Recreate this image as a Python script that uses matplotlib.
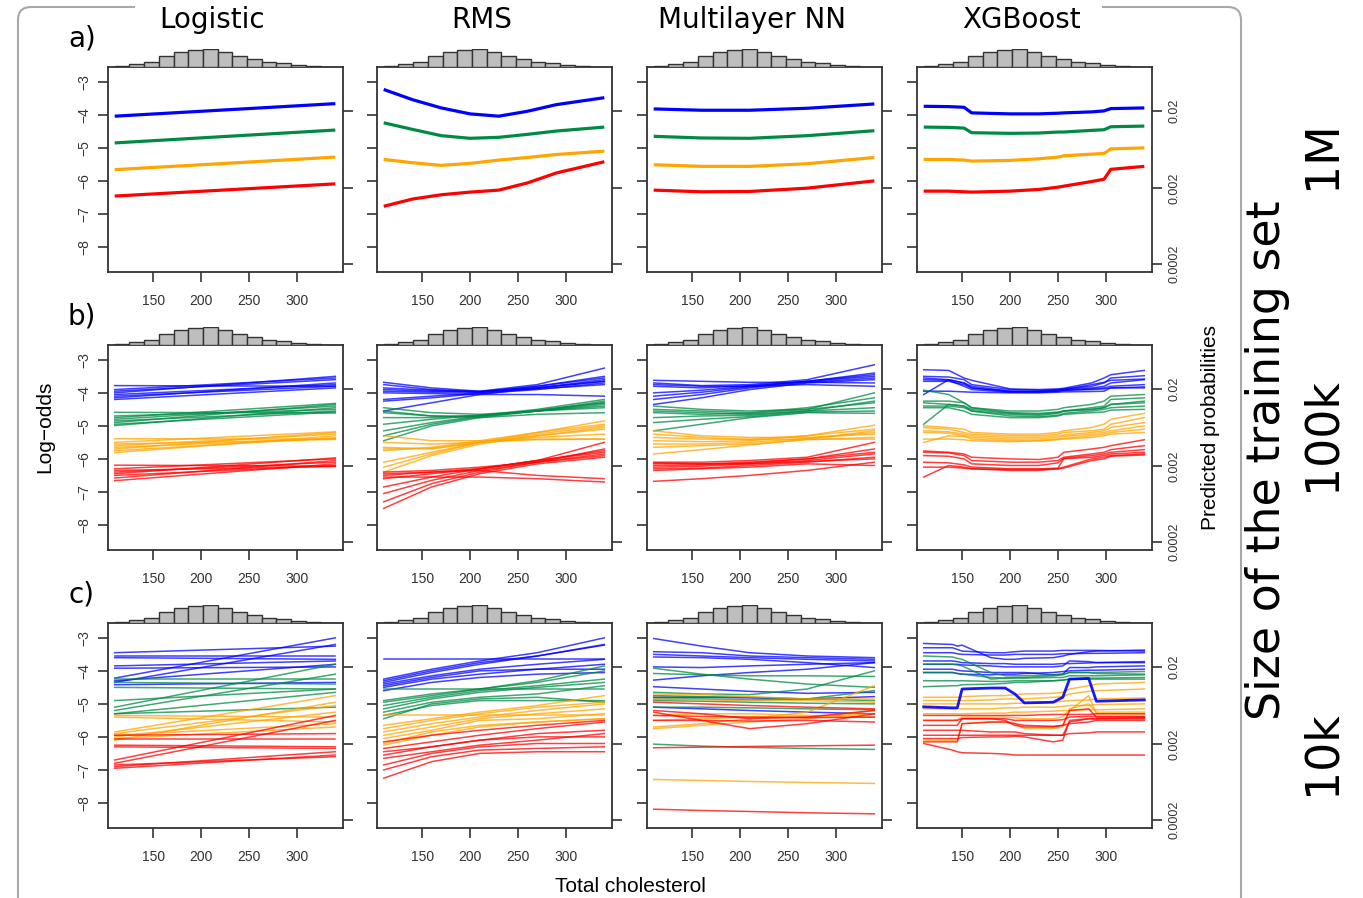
import numpy as np
import matplotlib
matplotlib.use("Agg")
import matplotlib.pyplot as plt
from matplotlib.path import Path
from matplotlib.patches import PathPatch

# ---- data (log-odds) ----
titles = ["Logistic", "RMS", "Multilayer NN", "XGBoost"]
row_tags = ["a)", "b)", "c)"]
size_tags = ["1M", "100k", "10k"]
colors = ["#0000FF", "#008B45", "#FFA500", "#FF0000"]  # blue, green, orange, red

x_ticks = [150, 200, 250, 300]
y_ticks = [-3, -4, -5, -6, -7, -8]
prob_ticks = [0.02, 0.002, 0.0002]
prob_labels = ["0.02", "0.002", "0.0002"]

# cholesterol histogram shown above each panel
hist_counts = [2, 8, 16, 31, 43, 50, 52, 45, 32, 23, 16, 11, 6, 2, 1]

X_LIN = [110, 340]
X_RMS_A = [110, 140, 170, 200, 230, 260, 290, 340]
X_SM = [110, 160, 210, 270, 340]
X_XGB = [110, 136, 152, 160, 200, 230, 250, 256, 285, 298, 305, 340]
X_XGB_C = [110, 140, 145, 150, 180, 195, 205, 215, 245, 255, 262, 282, 290, 340]

# row a) 1M
log_a_blue = [[-4.04, -3.66]]
log_a_green = [[-4.85, -4.46]]
log_a_orange = [[-5.66, -5.28]]
log_a_red = [[-6.46, -6.09]]

rms_a_blue = [[-3.23, -3.54, -3.79, -3.97, -4.04, -3.89, -3.69, -3.48]]
rms_a_green = [[-4.24, -4.44, -4.63, -4.71, -4.68, -4.59, -4.49, -4.37]]
rms_a_orange = [[-5.35, -5.45, -5.53, -5.47, -5.37, -5.29, -5.20, -5.10]]
rms_a_red = [[-6.77, -6.55, -6.42, -6.34, -6.28, -6.06, -5.76, -5.42]]

nn_a_blue = [[-3.82, -3.86, -3.86, -3.80, -3.67]]
nn_a_green = [[-4.65, -4.70, -4.71, -4.63, -4.48]]
nn_a_orange = [[-5.51, -5.56, -5.56, -5.48, -5.29]]
nn_a_red = [[-6.28, -6.33, -6.32, -6.22, -6.00]]

xgb_a_blue = [[-3.74, -3.75, -3.77, -3.94, -3.97, -3.97, -3.95, -3.94, -3.91, -3.88, -3.81, -3.79]]
xgb_a_green = [[-4.37, -4.38, -4.40, -4.54, -4.56, -4.55, -4.52, -4.52, -4.47, -4.45, -4.36, -4.34]]
xgb_a_orange = [[-5.35, -5.35, -5.37, -5.40, -5.38, -5.33, -5.28, -5.24, -5.19, -5.17, -5.03, -5.00]]
xgb_a_red = [[-6.31, -6.31, -6.33, -6.34, -6.31, -6.26, -6.19, -6.16, -6.02, -5.95, -5.65, -5.56]]

# row b) 100k
log_b_blue = [[-3.78, -3.80], [-3.90, -3.55], [-3.95, -3.60], [-4.00, -3.50],
              [-4.05, -3.75], [-4.10, -3.80], [-4.15, -3.70], [-4.20, -3.85]]
log_b_green = [[-4.59, -4.61], [-4.75, -4.32], [-4.80, -4.40], [-4.85, -4.55],
               [-4.90, -4.35], [-4.95, -4.58], [-4.99, -4.45], [-4.70, -4.50]]
log_b_orange = [[-5.39, -5.40], [-5.50, -5.18], [-5.60, -5.25], [-5.65, -5.38],
                [-5.70, -5.20], [-5.75, -5.36], [-5.81, -5.30], [-5.55, -5.41]]
log_b_red = [[-6.19, -6.22], [-6.30, -6.00], [-6.40, -6.10], [-6.45, -5.97],
             [-6.50, -6.20], [-6.58, -6.05], [-6.66, -6.15], [-6.35, -6.23]]

rms_b_blue = [[-3.68, -3.85, -3.95, -3.85, -3.65], [-3.75, -3.90, -3.98, -3.80, -3.50],
              [-3.85, -3.92, -3.95, -3.75, -3.25], [-3.95, -3.98, -3.97, -3.80, -3.55],
              [-4.20, -4.10, -4.00, -3.85, -3.60], [-4.25, -4.15, -4.02, -3.90, -3.70],
              [-4.55, -4.30, -4.05, -3.85, -3.65], [-4.00, -4.02, -4.05, -4.05, -4.10],
              [-3.90, -3.95, -3.98, -3.88, -3.75]]
rms_b_green = [[-4.45, -4.60, -4.65, -4.55, -4.40], [-4.60, -4.70, -4.70, -4.55, -4.30],
               [-4.75, -4.75, -4.68, -4.50, -4.20], [-4.95, -4.80, -4.68, -4.55, -4.45],
               [-5.15, -4.90, -4.70, -4.55, -4.35], [-5.45, -5.00, -4.75, -4.55, -4.25],
               [-4.55, -4.70, -4.75, -4.65, -4.60], [-5.30, -4.95, -4.72, -4.52, -4.30]]
rms_b_orange = [[-5.30, -5.45, -5.45, -5.42, -5.40], [-5.65, -5.70, -5.50, -5.40, -5.40],
                [-5.70, -5.68, -5.50, -5.30, -5.10], [-5.75, -5.65, -5.45, -5.20, -4.85],
                [-6.10, -5.80, -5.50, -5.25, -5.00], [-6.25, -5.85, -5.50, -5.20, -4.95],
                [-6.40, -5.90, -5.55, -5.30, -5.05], [-5.50, -5.55, -5.50, -5.35, -5.25]]
rms_b_red = [[-6.40, -6.35, -6.25, -6.10, -5.70], [-6.50, -6.40, -6.30, -6.05, -5.50],
             [-6.55, -6.55, -6.55, -6.60, -6.70], [-6.45, -6.40, -6.35, -6.50, -6.60],
             [-6.85, -6.55, -6.30, -6.05, -5.80], [-7.05, -6.65, -6.35, -6.10, -5.90],
             [-7.30, -6.75, -6.40, -6.10, -5.85], [-7.50, -6.85, -6.45, -6.15, -5.95],
             [-6.60, -6.45, -6.30, -6.05, -5.75]]

nn_b_blue = [[-3.62, -3.65, -3.68, -3.68, -3.70], [-3.70, -3.78, -3.75, -3.60, -3.15],
             [-3.80, -3.85, -3.78, -3.65, -3.40], [-4.00, -3.92, -3.80, -3.65, -3.45],
             [-4.10, -3.98, -3.82, -3.65, -3.50], [-4.20, -4.05, -3.85, -3.68, -3.55],
             [-4.35, -4.15, -3.90, -3.70, -3.60], [-3.75, -3.80, -3.80, -3.75, -3.80]]
nn_b_green = [[-4.40, -4.50, -4.55, -4.50, -4.00], [-4.50, -4.55, -4.60, -4.45, -4.15],
              [-4.60, -4.65, -4.62, -4.50, -4.30], [-4.75, -4.70, -4.68, -4.55, -4.45],
              [-4.90, -4.80, -4.72, -4.58, -4.55], [-5.15, -4.95, -4.75, -4.60, -4.62],
              [-4.55, -4.60, -4.65, -4.55, -4.25]]
nn_b_orange = [[-5.15, -5.30, -5.35, -5.35, -5.25], [-5.35, -5.40, -5.40, -5.30, -4.98],
               [-5.45, -5.48, -5.45, -5.30, -5.10], [-5.55, -5.55, -5.50, -5.38, -5.20],
               [-5.65, -5.60, -5.55, -5.42, -5.35], [-5.85, -5.72, -5.58, -5.40, -5.15],
               [-5.25, -5.35, -5.42, -5.40, -5.40]]
nn_b_red = [[-6.10, -6.10, -6.05, -5.95, -5.50], [-6.15, -6.15, -6.10, -6.00, -5.70],
            [-6.20, -6.18, -6.12, -6.00, -5.80], [-6.25, -6.22, -6.15, -6.05, -5.85],
            [-6.30, -6.28, -6.20, -6.10, -5.95], [-6.35, -6.30, -6.25, -6.15, -6.20],
            [-6.68, -6.60, -6.50, -6.35, -6.10], [-6.12, -6.15, -6.15, -6.08, -6.00]]

xgb_b_blue = [[-3.30, -3.32, -3.55, -3.62, -3.88, -3.90, -3.88, -3.86, -3.70, -3.55, -3.45, -3.32],
              [-3.50, -3.52, -3.60, -3.75, -3.90, -3.92, -3.90, -3.88, -3.80, -3.70, -3.55, -3.48],
              [-3.55, -3.60, -3.70, -3.80, -3.95, -3.95, -3.92, -3.90, -3.85, -3.80, -3.70, -3.60],
              [-3.65, -3.65, -3.75, -3.85, -3.95, -3.97, -3.95, -3.93, -3.88, -3.85, -3.80, -3.75],
              [-4.05, -3.60, -3.70, -3.85, -3.97, -3.98, -3.95, -3.92, -3.90, -3.88, -3.85, -3.82],
              [-3.95, -3.95, -3.97, -3.98, -4.00, -4.00, -3.98, -3.97, -3.96, -3.95, -3.85, -3.85],
              [-3.60, -3.62, -3.80, -3.90, -3.98, -3.96, -3.92, -3.90, -3.75, -3.68, -3.62, -3.58]]
xgb_b_green = [[-3.92, -4.05, -4.30, -4.45, -4.55, -4.55, -4.50, -4.45, -4.35, -4.25, -4.10, -4.05],
               [-4.25, -4.25, -4.30, -4.45, -4.60, -4.62, -4.58, -4.55, -4.45, -4.40, -4.20, -4.15],
               [-4.30, -4.35, -4.40, -4.55, -4.65, -4.68, -4.62, -4.55, -4.50, -4.45, -4.35, -4.30],
               [-4.40, -4.40, -4.45, -4.55, -4.70, -4.72, -4.68, -4.62, -4.55, -4.50, -4.45, -4.40],
               [-4.95, -4.35, -4.40, -4.50, -4.62, -4.65, -4.60, -4.55, -4.50, -4.45, -4.35, -4.25],
               [-4.45, -4.45, -4.55, -4.65, -4.75, -4.75, -4.70, -4.65, -4.60, -4.58, -4.52, -4.50]]
xgb_b_orange = [[-5.00, -5.05, -5.10, -5.20, -5.25, -5.25, -5.20, -5.15, -5.05, -4.95, -4.80, -4.62],
                [-5.05, -5.10, -5.20, -5.25, -5.30, -5.30, -5.25, -5.20, -5.15, -5.10, -4.95, -4.75],
                [-5.15, -5.18, -5.25, -5.30, -5.35, -5.35, -5.30, -5.28, -5.20, -5.15, -5.05, -4.90],
                [-5.20, -5.22, -5.30, -5.35, -5.40, -5.40, -5.35, -5.32, -5.25, -5.20, -5.15, -5.00],
                [-5.40, -5.40, -5.42, -5.45, -5.48, -5.45, -5.40, -5.38, -5.30, -5.25, -5.20, -5.10],
                [-5.50, -5.30, -5.32, -5.40, -5.45, -5.45, -5.42, -5.40, -5.35, -5.30, -5.25, -5.20]]
xgb_b_red = [[-5.76, -5.80, -5.85, -5.95, -6.00, -6.02, -5.95, -5.80, -5.70, -5.65, -5.60, -5.42],
             [-5.80, -5.82, -5.90, -6.05, -6.10, -6.10, -6.05, -5.95, -5.85, -5.80, -5.72, -5.60],
             [-5.90, -5.92, -6.00, -6.15, -6.20, -6.20, -6.12, -5.98, -5.90, -5.85, -5.80, -5.72],
             [-6.10, -6.12, -6.18, -6.25, -6.30, -6.30, -6.28, -6.00, -5.95, -5.90, -5.85, -5.80],
             [-6.25, -6.25, -6.28, -6.30, -6.35, -6.35, -6.30, -6.25, -6.00, -5.95, -5.90, -5.85],
             [-6.55, -6.20, -6.25, -6.30, -6.32, -6.32, -6.30, -6.28, -6.05, -6.00, -5.92, -5.88]]

# row c) 10k
log_c_blue = [[-3.45, -3.25], [-3.55, -3.55], [-3.60, -3.65], [-3.85, -3.70], [-3.92, -3.88],
              [-4.22, -3.00], [-4.35, -3.20], [-4.42, -4.35], [-4.30, -3.80]]
log_c_green = [[-4.25, -4.25], [-4.35, -4.40], [-4.50, -4.55], [-4.90, -4.55],
               [-5.10, -3.80], [-5.20, -4.10], [-5.30, -5.10], [-5.30, -4.65]]
log_c_orange = [[-5.35, -5.40], [-5.40, -5.55], [-5.85, -4.75], [-5.95, -5.60],
                [-6.00, -5.25], [-6.05, -5.70], [-6.10, -4.95], [-5.90, -5.05]]
log_c_red = [[-5.95, -5.90], [-6.05, -6.05], [-6.25, -6.30], [-6.30, -6.35], [-6.70, -5.35],
             [-6.80, -5.50], [-6.90, -6.45], [-6.95, -6.55], [-6.85, -6.60]]

rms_c_blue = [[-3.65, -3.65, -3.65, -3.65, -3.65], [-4.25, -3.95, -3.70, -3.45, -3.00],
              [-4.30, -4.00, -3.75, -3.55, -3.20], [-4.35, -4.05, -3.80, -3.55, -3.22],
              [-4.40, -4.15, -3.95, -3.80, -3.65], [-4.50, -4.25, -4.10, -3.95, -3.80],
              [-4.60, -4.35, -4.20, -4.10, -4.05], [-4.45, -4.20, -4.00, -3.95, -3.95]]
rms_c_green = [[-4.90, -4.70, -4.55, -4.30, -3.85], [-4.95, -4.75, -4.55, -4.35, -4.00],
               [-5.05, -4.80, -4.60, -4.45, -4.25], [-5.15, -4.85, -4.65, -4.50, -4.35],
               [-5.25, -4.95, -4.80, -4.70, -4.45], [-5.35, -5.05, -4.90, -4.90, -4.90],
               [-5.45, -5.00, -4.85, -4.80, -4.95], [-4.55, -4.55, -4.55, -4.55, -4.55]]
rms_c_orange = [[-5.65, -5.45, -5.25, -5.05, -4.75], [-5.75, -5.50, -5.30, -5.10, -4.95],
                [-5.85, -5.60, -5.40, -5.20, -5.00], [-5.95, -5.70, -5.45, -5.30, -5.15],
                [-6.05, -5.80, -5.50, -5.45, -5.30], [-6.20, -5.85, -5.65, -5.55, -5.45],
                [-6.25, -5.95, -5.70, -5.55, -5.45], [-5.35, -5.35, -5.35, -5.35, -5.35]]
rms_c_red = [[-6.15, -5.95, -5.80, -5.65, -5.50], [-6.35, -6.15, -5.95, -5.75, -5.55],
             [-6.55, -6.30, -6.10, -5.90, -5.80], [-6.65, -6.45, -6.25, -6.10, -5.90],
             [-6.85, -6.50, -6.30, -6.20, -6.20], [-7.00, -6.60, -6.40, -6.35, -6.30],
             [-7.25, -6.75, -6.50, -6.45, -6.45], [-6.45, -6.30, -6.10, -6.00, -6.00]]

nn_c_blue = [[-3.02, -3.25, -3.45, -3.55, -3.60], [-3.42, -3.45, -3.55, -3.60, -3.65],
             [-3.50, -3.55, -3.60, -3.65, -3.70], [-3.58, -3.60, -3.65, -3.75, -3.90],
             [-3.88, -3.90, -3.85, -3.80, -3.75], [-4.28, -4.15, -4.05, -3.95, -3.75],
             [-4.48, -4.55, -4.62, -4.68, -4.65], [-4.80, -4.80, -4.82, -4.85, -4.78],
             [-5.10, -5.15, -5.20, -5.25, -5.30]]
nn_c_green = [[-3.92, -4.10, -4.25, -4.40, -4.50], [-4.08, -4.12, -4.15, -4.15, -4.17],
              [-4.65, -4.70, -4.72, -4.55, -4.00], [-4.75, -4.78, -4.80, -4.85, -4.90],
              [-4.90, -4.92, -4.95, -4.98, -5.00], [-5.10, -5.10, -5.12, -5.15, -5.18],
              [-6.22, -6.28, -6.32, -6.35, -6.38], [-4.85, -4.85, -4.88, -4.85, -4.60]]
nn_c_orange = [[-4.70, -4.72, -4.78, -4.85, -4.85], [-4.85, -4.88, -4.90, -4.90, -4.95],
               [-5.35, -5.30, -5.30, -5.35, -5.40], [-5.50, -5.45, -5.40, -5.38, -5.30],
               [-5.70, -5.60, -5.45, -5.25, -4.45], [-5.75, -5.65, -5.55, -5.45, -5.20],
               [-7.29, -7.32, -7.35, -7.38, -7.41]]
nn_c_red = [[-4.95, -5.00, -5.05, -5.10, -5.15], [-5.20, -5.30, -5.45, -5.40, -5.20],
            [-5.25, -5.50, -5.75, -5.60, -5.30], [-5.35, -5.38, -5.40, -5.42, -5.40],
            [-5.50, -5.50, -5.52, -5.50, -5.55], [-6.33, -6.31, -6.29, -6.27, -6.25],
            [-8.19, -8.23, -8.26, -8.30, -8.33]]

xgb_c_blue = [[-3.17, -3.20, -3.25, -3.22, -3.60, -3.65, -3.65, -3.62, -3.60, -3.55, -3.50, -3.42, -3.40, -3.37],
              [-3.30, -3.30, -3.35, -3.40, -3.45, -3.45, -3.42, -3.40, -3.40, -3.38, -3.38, -3.38, -3.38, -3.40],
              [-3.45, -3.45, -3.48, -3.50, -3.52, -3.52, -3.50, -3.50, -3.50, -3.48, -3.48, -3.47, -3.47, -3.45],
              [-3.80, -3.80, -3.80, -3.82, -3.85, -3.88, -3.88, -3.88, -3.88, -3.85, -3.70, -3.72, -3.75, -3.75],
              [-3.95, -3.95, -3.98, -4.00, -4.05, -4.05, -4.05, -4.05, -4.12, -4.10, -3.90, -3.90, -3.88, -3.85],
              [-4.05, -4.05, -4.08, -4.10, -4.12, -4.10, -4.10, -4.08, -4.05, -4.02, -4.00, -3.98, -3.98, -3.95],
              [-3.70, -3.70, -3.72, -3.75, -3.78, -3.78, -3.80, -3.80, -3.80, -3.78, -3.78, -3.76, -3.75, -3.72]]
xgb_c_blue_bold = [-5.09, -5.12, -5.12, -4.55, -4.52, -4.52, -4.70, -4.97, -4.95, -4.80, -4.25, -4.23, -4.92, -4.88]
xgb_c_green = [[-3.55, -3.58, -3.62, -3.65, -4.05, -4.15, -4.15, -4.15, -4.12, -4.10, -4.05, -4.05, -4.08, -4.10],
               [-3.80, -3.80, -3.82, -3.85, -4.25, -4.22, -4.20, -4.20, -4.15, -4.12, -4.05, -4.05, -4.05, -4.02],
               [-4.05, -4.05, -4.08, -4.10, -4.20, -4.22, -4.22, -4.22, -4.20, -4.20, -4.15, -4.15, -4.15, -4.12],
               [-4.48, -4.45, -4.45, -4.42, -4.40, -4.38, -4.35, -4.35, -4.30, -4.28, -4.25, -4.22, -4.22, -4.20],
               [-4.30, -4.30, -4.30, -4.30, -4.32, -4.32, -4.30, -4.30, -4.30, -4.28, -4.25, -4.25, -4.25, -4.25]]
xgb_c_orange = [[-4.80, -4.80, -4.80, -4.78, -4.75, -4.75, -4.72, -4.70, -4.68, -4.65, -4.55, -4.45, -4.40, -4.35],
                [-4.90, -4.90, -4.90, -4.90, -4.88, -4.85, -4.85, -4.85, -4.80, -4.78, -4.70, -4.62, -4.60, -4.55],
                [-5.00, -5.00, -5.00, -5.00, -5.00, -5.00, -4.98, -4.98, -4.95, -4.92, -4.90, -4.88, -4.85, -4.82],
                [-5.15, -5.15, -5.15, -5.15, -5.15, -5.12, -5.12, -5.10, -5.10, -5.08, -5.05, -5.05, -5.02, -5.00],
                [-5.50, -5.50, -5.48, -5.40, -5.40, -5.40, -5.42, -5.45, -5.45, -5.40, -5.15, -5.00, -5.25, -5.25],
                [-6.10, -6.10, -6.10, -5.60, -5.55, -5.55, -5.60, -5.75, -5.75, -5.70, -5.20, -4.75, -5.30, -5.30],
                [-5.30, -5.30, -5.30, -5.30, -5.28, -5.28, -5.25, -5.25, -5.22, -5.20, -5.20, -5.18, -5.18, -5.15]]
xgb_c_red = [[-5.35, -5.35, -5.35, -5.35, -5.35, -5.35, -5.35, -5.35, -5.32, -5.32, -5.32, -5.32, -5.30, -5.30],
             [-5.50, -5.50, -5.50, -5.45, -5.45, -5.45, -5.50, -5.50, -5.50, -5.48, -5.40, -5.38, -5.38, -5.38],
             [-5.65, -5.65, -5.65, -5.45, -5.45, -5.50, -5.65, -5.70, -5.70, -5.65, -5.20, -5.15, -5.40, -5.40],
             [-5.80, -5.80, -5.80, -5.80, -5.85, -5.85, -5.85, -5.90, -5.95, -5.95, -5.55, -5.45, -5.45, -5.42],
             [-6.05, -6.05, -6.05, -6.02, -6.00, -6.00, -5.98, -6.00, -6.15, -6.10, -5.50, -5.45, -5.45, -5.45],
             [-6.20, -6.40, -6.45, -6.48, -6.50, -6.52, -6.55, -6.55, -6.55, -6.55, -6.55, -6.55, -6.55, -6.55],
             [-5.95, -5.95, -5.95, -5.95, -5.95, -5.95, -5.95, -5.95, -5.95, -5.95, -5.90, -5.88, -5.85, -5.85],
             [-6.15, -6.15, -6.15, -5.60, -5.55, -5.55, -5.60, -5.65, -5.68, -5.65, -5.60, -5.55, -5.50, -5.50]]

panels = [
    [(X_LIN, [log_a_blue, log_a_green, log_a_orange, log_a_red]),
     (X_RMS_A, [rms_a_blue, rms_a_green, rms_a_orange, rms_a_red]),
     (X_SM, [nn_a_blue, nn_a_green, nn_a_orange, nn_a_red]),
     (X_XGB, [xgb_a_blue, xgb_a_green, xgb_a_orange, xgb_a_red])],
    [(X_LIN, [log_b_blue, log_b_green, log_b_orange, log_b_red]),
     (X_SM, [rms_b_blue, rms_b_green, rms_b_orange, rms_b_red]),
     (X_SM, [nn_b_blue, nn_b_green, nn_b_orange, nn_b_red]),
     (X_XGB, [xgb_b_blue, xgb_b_green, xgb_b_orange, xgb_b_red])],
    [(X_LIN, [log_c_blue, log_c_green, log_c_orange, log_c_red]),
     (X_SM, [rms_c_blue, rms_c_green, rms_c_orange, rms_c_red]),
     (X_SM, [nn_c_blue, nn_c_green, nn_c_orange, nn_c_red]),
     (X_XGB_C, [xgb_c_blue, xgb_c_green, xgb_c_orange, xgb_c_red])],
]

# ---- layout (pixels) ----
W, H = 1363, 898
col_left = [108, 377, 647, 917]
row_top = [67, 345, 623]
pw, ph = 235, 205
hist_h = 18
XLIM = (103, 348)
YLIM = (-8.76, -2.55)
ink = "#333333"
tick_font = ["Liberation Sans", "DejaVu Sans"]
big_font = ["DejaVu Sans"]


def add_px_axes(fig, left, top, w, h):
    return fig.add_axes([left / W, 1 - (top + h) / H, w / W, h / H])


fig = plt.figure(figsize=(W / 100, H / 100), dpi=100)
edges = np.linspace(110, 340, len(hist_counts) + 1)
prob_pos = [np.log(p / (1 - p)) for p in prob_ticks]

for r in range(3):
    for c in range(4):
        ax = add_px_axes(fig, col_left[c], row_top[r], pw, ph)
        xs, groups = panels[r][c]
        thick = r == 0
        for col, curves in zip(colors, groups):
            for ys in curves:
                if thick:
                    ax.plot(xs, ys, color=col, lw=2.3, solid_capstyle="butt")
                else:
                    ax.plot(xs, ys, color=col, lw=1.1, alpha=0.75)
        if r == 2 and c == 3:
            ax.plot(xs, xgb_c_blue_bold, color=colors[0], lw=2.0, alpha=0.9)
        ax.set_xlim(XLIM)
        ax.set_ylim(YLIM)
        ax.set_xticks(x_ticks)
        ax.set_yticks(y_ticks)
        ax.tick_params(direction="out", length=7, width=1.2, color=ink,
                       labelcolor=ink, labelsize=10, pad=9)
        ax.tick_params(axis="y", pad=5)
        for lab in ax.get_xticklabels():
            lab.set_family(tick_font)
        if c == 0:
            ax.set_yticklabels([f"\u2212{abs(v)}" for v in y_ticks], rotation=90,
                               va="center", family=tick_font)
        else:
            ax.set_yticklabels([])
        for sp in ax.spines.values():
            sp.set_color(ink)
            sp.set_linewidth(1.3)

        ax2 = ax.twinx()
        ax2.set_ylim(YLIM)
        ax2.set_yticks(prob_pos)
        ax2.tick_params(direction="out", length=7, width=1.2, color=ink,
                        labelcolor=ink, labelsize=9, pad=5)
        if c == 3:
            ax2.set_yticklabels(prob_labels, rotation=90, va="center", family=tick_font)
        else:
            ax2.set_yticklabels([])
        for sp in ax2.spines.values():
            sp.set_visible(False)

        hax = add_px_axes(fig, col_left[c], row_top[r] - hist_h, pw, hist_h)
        hax.bar(edges[:-1], hist_counts, width=np.diff(edges), align="edge",
                color="#BEBEBE", edgecolor=ink, linewidth=1.0)
        hax.set_xlim(XLIM)
        hax.set_ylim(0, 53)
        hax.axis("off")

    fig.text(68 / W, 1 - 47 / H - (row_top[r] - 67) / H, row_tags[r],
             fontsize=20, family=big_font, ha="left", va="baseline")

for c, t in enumerate(titles):
    fig.text((col_left[c] + pw / 2 - 13) / W, 1 - 28 / H, t, fontsize=20,
             family=big_font, ha="center", va="baseline")

fig.text(45 / W, 1 - 427 / H, "Log\u2212odds", rotation=90, fontsize=15,
         family=tick_font, ha="center", va="center")
fig.text(1210 / W, 1 - 428 / H, "Predicted probabilities", rotation=90,
         fontsize=15, family=tick_font, ha="center", va="center")
fig.text(630 / W, 1 - 887 / H, "Total cholesterol", fontsize=15,
         family=tick_font, ha="center", va="center")

fig.text(1267 / W, 1 - 460 / H, "Size of the training set", rotation=90,
         fontsize=33, family=big_font, ha="center", va="center")
for tag, yc in zip(size_tags, [155, 434, 753]):
    fig.text(1322 / W, 1 - yc / H, tag, rotation=90, fontsize=33,
             family=big_font, ha="center", va="center")

# rounded frame around the grid (top edge broken by the titles)
def fp(x, y):
    return (x / W, 1 - y / H)

left_frame = Path([fp(18, 898), fp(18, 20), fp(18, 7), fp(31, 7), fp(135, 7)],
                  [Path.MOVETO, Path.LINETO, Path.CURVE3, Path.CURVE3, Path.LINETO])
right_frame = Path([fp(1102, 7), fp(1228, 7), fp(1241, 7), fp(1241, 20), fp(1241, 898)],
                   [Path.MOVETO, Path.LINETO, Path.CURVE3, Path.CURVE3, Path.LINETO])
for pth in (left_frame, right_frame):
    fig.add_artist(PathPatch(pth, transform=fig.transFigure, fill=False,
                             edgecolor="#A8A8A8", lw=1.5))

fig.savefig("out.png", dpi=100)
